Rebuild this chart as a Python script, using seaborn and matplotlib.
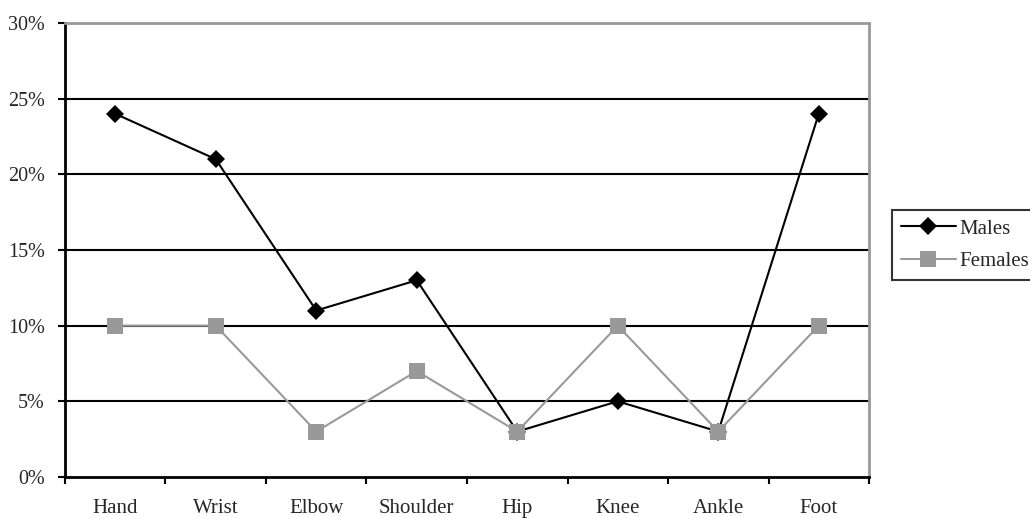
import matplotlib
matplotlib.use("Agg")
import matplotlib.pyplot as plt
import seaborn as sns
import pandas as pd
from matplotlib.ticker import FixedLocator, PercentFormatter

sites = ["Hand", "Wrist", "Elbow", "Shoulder", "Hip", "Knee", "Ankle", "Foot"]
males = [24, 21, 11, 13, 3, 5, 3, 24]
females = [10, 10, 3, 7, 3, 10, 3, 10]

sns.set_theme(style="white")
plt.rcParams["font.family"] = ["Liberation Serif", "DejaVu Serif"]

df = pd.DataFrame({
    "pos": list(range(len(sites))) * 2,
    "value": males + females,
    "sex": ["Males"] * len(sites) + ["Females"] * len(sites),
})

GREY = "#999999"
FS = 15

fig = plt.figure(figsize=(10.30, 5.18), dpi=100)
ax = fig.add_axes([0.0631, 0.0792, 0.7806, 0.8764])

sns.lineplot(data=df, x="pos", y="value", hue="sex", style="sex",
             palette={"Males": "black", "Females": GREY},
             markers={"Males": "D", "Females": "s"}, dashes=False,
             markersize=8.8, linewidth=1.5, markeredgewidth=0,
             ax=ax, legend=False)
for ln in ax.get_lines():
    if ln.get_marker() == "s":
        ln.set_markersize(11.2)

ax.set_xlim(-0.5, len(sites) - 0.5)
ax.set_ylim(0, 30)
ax.set_xticks(range(len(sites)))
ax.set_xticklabels(sites)
ax.xaxis.set_minor_locator(FixedLocator([i - 0.5 for i in range(len(sites) + 1)]))
ax.tick_params(axis="x", which="major", length=0, pad=15.5, labelsize=FS)
ax.tick_params(axis="x", which="minor", length=5, width=1.5, color="black",
               direction="out", bottom=True)
ax.set_yticks(range(0, 31, 5))
ax.yaxis.set_major_formatter(PercentFormatter(decimals=0))
ax.tick_params(axis="y", length=5, width=1.5, color="black", direction="out",
               pad=9.5, labelsize=14.5, left=True)

for y in range(5, 30, 5):
    ax.axhline(y, color="black", linewidth=1.5, zorder=0)

for side, col in [("left", "black"), ("bottom", "black"), ("top", GREY), ("right", GREY)]:
    ax.spines[side].set_color(col)
    ax.spines[side].set_linewidth(2)
ax.set_xlabel("")
ax.set_ylabel("")

handles = [
    plt.Line2D([], [], color="black", marker="D", markersize=8.8, linewidth=1.5,
               markeredgewidth=0, label="Males"),
    plt.Line2D([], [], color=GREY, marker="s", markersize=11.2, linewidth=1.5,
               markeredgewidth=0, label="Females"),
]
leg = fig.legend(handles=handles, loc="upper left", bbox_to_anchor=(0.866, 0.595),
                 frameon=True, fancybox=False, fontsize=FS, handlelength=2.6,
                 handletextpad=0.2, borderpad=0.45, labelspacing=0.6,
                 borderaxespad=0)
leg.get_frame().set_edgecolor("black")
leg.get_frame().set_linewidth(1.5)

fig.savefig("out.png", dpi=100, facecolor="white")
